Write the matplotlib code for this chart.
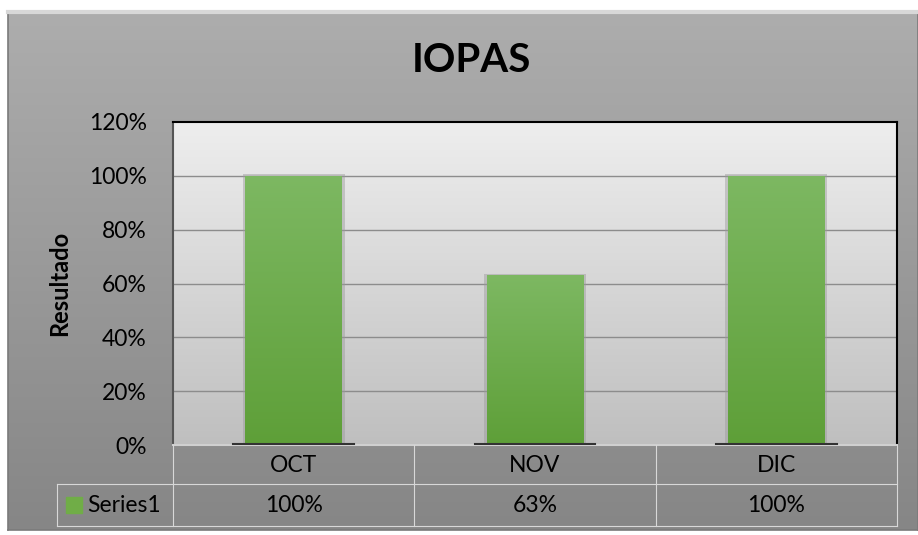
import numpy as np
import matplotlib.pyplot as plt
import matplotlib.transforms as mtransforms
from matplotlib.colors import LinearSegmentedColormap
from matplotlib.lines import Line2D
from matplotlib.patches import Rectangle

# data
categories = ['OCT', 'NOV', 'DIC']
values = [100, 63, 100]
table_labels = ['100%', '63%', '100%']
series_name = 'Series1'
yticks = [0, 20, 40, 60, 80, 100, 120]

W, H = 918, 535
plt.rcParams['font.family'] = ['Lato', 'DejaVu Sans']

fig = plt.figure(figsize=(W / 100, H / 100), dpi=100)
fig.patch.set_facecolor('white')

# outer chart frame with gray gradient
bg = fig.add_axes([8 / W, 1 - 530 / H, (W - 8) / W, (530 - 12) / H])
grad = np.linspace(0, 1, 256).reshape(-1, 1)
bg.imshow(grad, cmap=LinearSegmentedColormap.from_list('bg', ['#adadad', '#868686']),
          aspect='auto', extent=[0, 1, 1, 0])
bg.set_xlim(0, 1)
bg.set_ylim(1, 0)
bg.set_xticks([])
bg.set_yticks([])
for s in bg.spines.values():
    s.set_color('#7a7a7a')
    s.set_linewidth(1.2)
bg.spines['top'].set_color('#d8d8d8')
bg.spines['top'].set_linewidth(3)

# plot area
x0, x1, y0, y1 = 173, 897, 122, 445
ax = fig.add_axes([x0 / W, 1 - y1 / H, (x1 - x0) / W, (y1 - y0) / H])
n = len(categories)
pa = LinearSegmentedColormap.from_list('pa', ['#bfbfbf', '#eeeeee'])
ax.imshow(grad, cmap=pa, aspect='auto', extent=[-0.5, n - 0.5, 0, 120],
          origin='lower', zorder=0)
for t in yticks[1:-1]:
    ax.axhline(t, color='#8c8c8c', lw=1, zorder=1)

bars = ax.bar(range(n), values, width=0.4, color='#70ad47', zorder=3)
gcm = LinearSegmentedColormap.from_list('g', ['#5e9f38', '#7db862'])
for b in bars:
    bx, bw, bh = b.get_x(), b.get_width(), b.get_height()
    # soft shadow
    ax.add_patch(Rectangle((bx - 0.012, 0), bw + 0.024, bh + 0.6, color='#9a9a9a',
                           alpha=0.45, zorder=2, lw=0))
    im = ax.imshow(grad, cmap=gcm, aspect='auto', extent=[bx, bx + bw, 0, bh],
                   origin='lower', zorder=4)
    im.set_clip_path(b)
    # dark base line under bar
    ax.plot([bx - 0.05, bx + bw + 0.05], [0.3, 0.3], color='#333333', lw=1.5, zorder=5)

ax.set_xlim(-0.5, n - 0.5)
ax.set_ylim(0, 120)
ax.set_xticks([])
ax.set_yticks(yticks)
ax.set_yticklabels([f'{t}%' for t in yticks], fontsize=16.5)
ax.tick_params(axis='y', length=0, pad=19)
ax.spines['top'].set_color('black')
ax.spines['right'].set_color('black')
ax.spines['left'].set_color('#555555')
ax.spines['bottom'].set_color('#d0d0d0')
for s in ax.spines.values():
    s.set_linewidth(1.5)
ax.set_ylabel('Resultado', fontsize=17, fontweight='bold')
ax.yaxis.set_label_coords((71 - x0) / (x1 - x0), 0.5)

fig.text(471 / W, 1 - 61 / H, 'IOPAS', ha='center', va='center', fontsize=29,
         fontweight='bold')

# data table below the axis
tr = mtransforms.blended_transform_factory(ax.transData, fig.transFigure)
row1_mid = 1 - 466 / H
row2_mid = 1 - 505 / H
line_c = '#d8d8d8'
ytop = 1 - 445 / H
ybot1 = 1 - 484 / H
ybot2 = 1 - 526 / H
for i, (c, lab) in enumerate(zip(categories, table_labels)):
    ax.text(i, row1_mid, c, transform=tr, ha='center', va='center', fontsize=16.5)
    ax.text(i, row2_mid, lab, transform=tr, ha='center', va='center', fontsize=16.5)
for k in range(n + 1):
    fig.add_artist(Line2D([k - 0.5, k - 0.5], [ytop, ybot2], transform=tr,
                          color=line_c, lw=0.8))
for yy in (ybot1, ybot2):
    fig.add_artist(Line2D([57 / W, x1 / W], [yy, yy], transform=fig.transFigure,
                          color=line_c, lw=0.8))
fig.add_artist(Line2D([57 / W, 57 / W], [ybot1, ybot2], transform=fig.transFigure,
                      color=line_c, lw=0.8))
fig.add_artist(Rectangle((66 / W, 1 - 513 / H), 16 / W, 16 / H, transform=fig.transFigure,
                         color='#70ad47'))
fig.text(87 / W, row2_mid, series_name, ha='left', va='center', fontsize=16.5)

fig.savefig('out.png', dpi=100)
